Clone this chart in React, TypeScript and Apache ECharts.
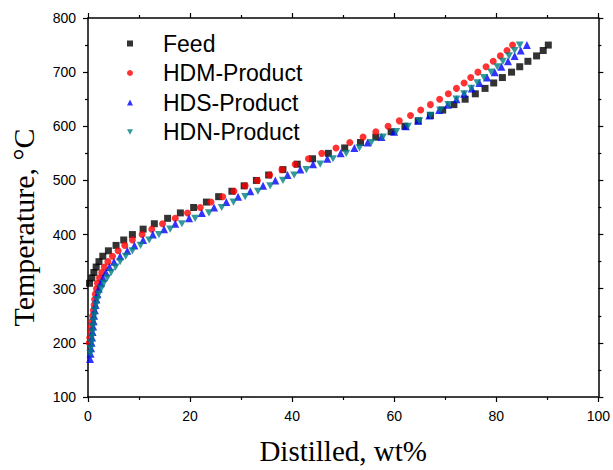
import React, { useEffect, useRef } from "react";
import * as echarts from "echarts";

// Temperature (°C) and distilled fraction (wt%) for each sample
const feedT = [310, 320, 330, 340, 350, 360, 370, 380, 390, 400, 410, 420, 430, 440, 450, 460, 470, 480, 490, 500, 510, 520, 530, 540, 550, 560, 570, 580, 590, 600, 610, 620, 630, 640, 650, 660, 670, 680, 690, 700, 710, 720, 730, 740, 750];
const feedX = [0.3, 0.75, 1.15, 1.6, 2.15, 2.9, 4.0, 5.5, 7.0, 8.7, 10.8, 13.0, 15.6, 18.1, 20.7, 23.2, 25.6, 28.2, 30.6, 33.0, 35.4, 38.2, 41.0, 44.0, 47.1, 50.3, 53.4, 56.4, 59.4, 62.1, 64.7, 67.1, 69.5, 71.7, 73.9, 75.9, 77.8, 79.5, 81.2, 83.0, 84.6, 86.2, 87.9, 89.2, 90.2];

const hdmT = [200, 210, 220, 230, 240, 250, 260, 270, 280, 290, 300, 310, 320, 330, 340, 350, 360, 370, 380, 390, 400, 410, 420, 430, 440, 450, 460, 470, 480, 490, 500, 510, 520, 530, 540, 550, 560, 570, 580, 590, 600, 610, 620, 630, 640, 650, 660, 670, 680, 690, 700, 710, 720, 730, 740, 750];
const hdmX = [0.25, 0.35, 0.45, 0.6, 0.75, 0.9, 1.05, 1.2, 1.3, 1.45, 1.65, 1.85, 2.25, 2.7, 3.2, 3.9, 4.8, 5.9, 7.2, 8.7, 10.6, 12.5, 14.6, 17.1, 19.5, 22.0, 24.1, 26.4, 28.6, 30.8, 33.2, 35.6, 38.0, 40.6, 43.2, 45.8, 48.6, 51.3, 53.9, 56.4, 58.8, 61.0, 63.2, 65.2, 67.1, 68.9, 70.6, 72.2, 73.7, 75.0, 76.4, 78.0, 79.4, 80.8, 82.1, 83.2];

const hdsT = [170, 180, 190, 200, 210, 220, 230, 240, 250, 260, 270, 280, 290, 300, 310, 320, 330, 340, 350, 360, 370, 380, 390, 400, 410, 420, 430, 440, 450, 460, 470, 480, 490, 500, 510, 520, 530, 540, 550, 560, 570, 580, 590, 600, 610, 620, 630, 640, 650, 660, 670, 680, 690, 700, 710, 720, 730, 740, 750];
const hdsX = [0.4, 0.5, 0.6, 0.7, 0.8, 0.9, 1.0, 1.1, 1.2, 1.35, 1.5, 1.65, 1.85, 2.1, 2.5, 2.95, 3.5, 4.2, 5.1, 6.3, 7.7, 9.1, 10.8, 12.7, 14.9, 17.1, 19.8, 22.3, 24.7, 27.1, 29.4, 31.8, 34.3, 36.7, 39.1, 41.6, 44.1, 46.9, 49.5, 52.2, 54.8, 57.5, 60.0, 62.3, 64.7, 66.9, 68.8, 70.5, 72.2, 73.7, 75.2, 76.7, 78.2, 79.7, 81.0, 82.3, 83.6, 84.8, 86.0];

const hdnT = [180, 190, 200, 210, 220, 230, 240, 250, 260, 270, 280, 290, 300, 310, 320, 330, 340, 350, 360, 370, 380, 390, 400, 410, 420, 430, 440, 450, 460, 470, 480, 490, 500, 510, 520, 530, 540, 550, 560, 570, 580, 590, 600, 610, 620, 630, 640, 650, 660, 670, 680, 690, 700, 710, 720, 730, 740, 750];
const hdnX = [0.45, 0.55, 0.65, 0.75, 0.85, 0.95, 1.05, 1.2, 1.35, 1.55, 1.8, 2.1, 2.6, 3.1, 3.8, 4.55, 5.4, 6.3, 7.4, 8.7, 10.3, 12.0, 13.9, 16.1, 18.4, 21.0, 23.7, 26.2, 28.5, 30.8, 33.3, 35.7, 38.2, 40.4, 42.8, 45.5, 48.0, 50.6, 53.2, 55.5, 57.8, 60.4, 62.7, 64.9, 67.1, 69.0, 70.6, 72.2, 73.7, 75.1, 76.3, 77.6, 79.0, 80.2, 81.3, 82.5, 83.6, 84.6];

const seriesNames = ["Feed", "HDM-Product", "HDS-Product", "HDN-Product"];

const downTriangle = "path://M0,0L10,0L5,9Z";

export default function App() {
  const ref = useRef<HTMLDivElement>(null);
  useEffect(() => {
    document.body.style.margin = "0";
    const chart = echarts.init(ref.current!, null, { renderer: "svg" });
    const sans = "'Liberation Sans', Arial, sans-serif";
    const serif = "'Liberation Serif', 'Times New Roman', serif";
    const zip = (xs: number[], ts: number[]) => xs.map((x, i) => [x, ts[i]]);
    const line = { show: true, onZero: false, lineStyle: { color: "#000", width: 1.5 } };
    const tick = { show: true, inside: false, length: 5, lineStyle: { color: "#000", width: 1.2 } };
    const minor = { show: true, splitNumber: 2, length: 3, lineStyle: { color: "#000", width: 1.2 } };
    const label = { fontFamily: sans, fontSize: 14, color: "#000", margin: 12 };

    chart.setOption({
      animation: false,
      grid: { left: 87, top: 18, width: 513.5, height: 383.5, containLabel: false },
      xAxis: [
        {
          type: "value", min: 0, max: 100, interval: 20, position: "bottom",
          name: "Distilled, wt%", nameLocation: "middle", nameGap: 39,
          nameTextStyle: { fontFamily: serif, fontSize: 29, color: "#000" },
          axisLine: line, axisTick: tick, minorTick: minor, axisLabel: label,
          splitLine: { show: false },
        },
        {
          type: "value", min: 0, max: 100, interval: 20, position: "top",
          axisLine: line, axisTick: tick, minorTick: minor, axisLabel: { show: false },
          splitLine: { show: false },
        },
      ],
      yAxis: [
        {
          type: "value", min: 100, max: 800, interval: 100, position: "left",
          name: "Temperature, °C", nameLocation: "middle", nameGap: 50,
          nameTextStyle: { fontFamily: serif, fontSize: 30, color: "#000", padding: [0, 40, 0, 0] },
          axisLine: line, axisTick: tick, minorTick: minor, axisLabel: label,
          splitLine: { show: false },
        },
        {
          type: "value", min: 100, max: 800, interval: 100, position: "right",
          axisLine: line, axisTick: tick, minorTick: minor, axisLabel: { show: false },
          splitLine: { show: false },
        },
      ],
      legend: {
        orient: "vertical", left: 127, top: 32, padding: 0,
        itemWidth: 6, itemHeight: 6, itemGap: 6.5,
        textStyle: { fontFamily: sans, fontSize: 23, color: "#000", lineHeight: 22, padding: [0, 0, 0, 25] },
        data: seriesNames,
      },
      series: [
        { name: seriesNames[0], type: "scatter", symbol: "rect", symbolSize: 7, itemStyle: { color: "#000000" }, data: zip(feedX, feedT) },
        { name: seriesNames[1], type: "scatter", symbol: "circle", symbolSize: 7, itemStyle: { color: "#ff0000" }, data: zip(hdmX, hdmT) },
        { name: seriesNames[2], type: "scatter", symbol: "triangle", symbolSize: 8, itemStyle: { color: "#0000ff" }, data: zip(hdsX, hdsT) },
        { name: seriesNames[3], type: "scatter", symbol: downTriangle, symbolKeepAspect: true, symbolSize: 8, itemStyle: { color: "#008080" }, data: zip(hdnX, hdnT) },
      ],
    });
    return () => chart.dispose();
  }, []);
  return <div ref={ref} style={{ position: "absolute", left: 0, top: 0, width: 613, height: 470 }} />;
}
